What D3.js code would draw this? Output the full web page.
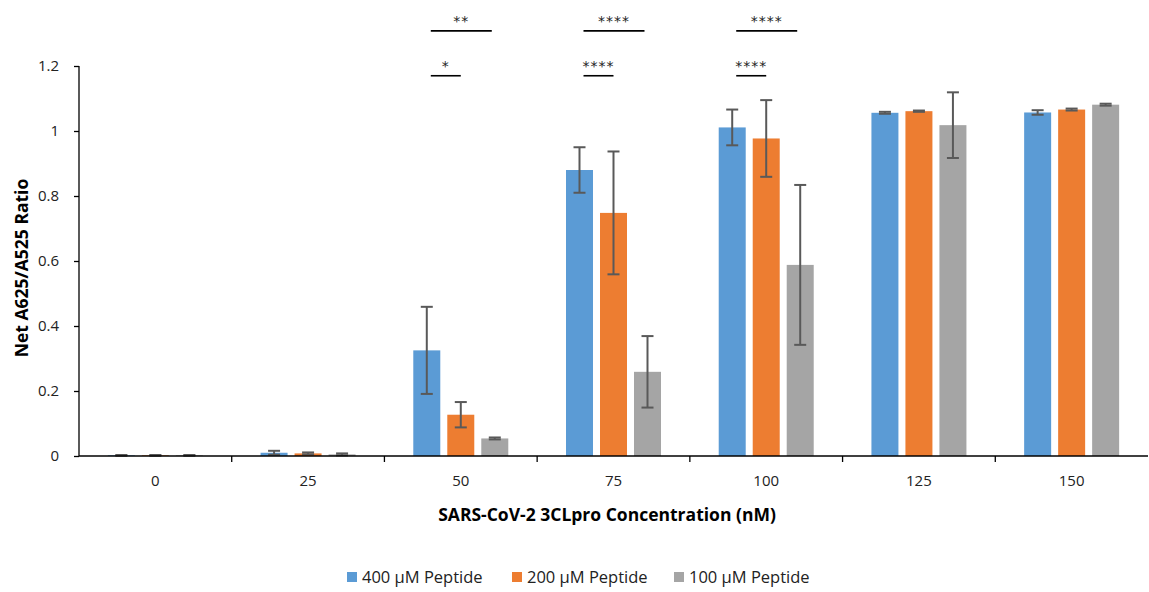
<!DOCTYPE html>
<html>
<head>
<meta charset="utf-8">
<script src="https://cdn.jsdelivr.net/npm/d3@7"></script>
<style>
  body { margin: 0; background: #fff; }
  svg { font-family: "Open Sans", sans-serif; }
</style>
</head>
<body>
<div id="chart"></div>
<script>
// chart data
const categories = ["0", "25", "50", "75", "100", "125", "150"];
const seriesNames = ["400 µM Peptide", "200 µM Peptide", "100 µM Peptide"];
const seriesColors = ["#5B9BD5", "#ED7D31", "#A5A5A5"];
const values400 = [0.002, 0.010, 0.325, 0.880, 1.011, 1.056, 1.057];
const values200 = [0.002, 0.008, 0.127, 0.748, 0.977, 1.061, 1.066];
const values100 = [0.002, 0.005, 0.054, 0.259, 0.588, 1.018, 1.081];
const errors400 = [0.001, 0.006, 0.134, 0.070, 0.055, 0.003, 0.007];
const errors200 = [0.001, 0.003, 0.039, 0.189, 0.118, 0.002, 0.003];
const errors100 = [0.001, 0.003, 0.003, 0.110, 0.246, 0.101, 0.003];
const yTickValues = [0, 0.2, 0.4, 0.6, 0.8, 1, 1.2];

// significance marks: category, compared series, label, height
const sigCategories = ["50", "50", "75", "75", "100", "100"];
const sigTargets = [1, 2, 1, 2, 1, 2];
const sigLabels = ["*", "**", "****", "****", "****", "****"];
const sigLevels = [1.17, 1.308, 1.17, 1.308, 1.17, 1.308];

const width = 1149, height = 592;
const margin = {top: 66, left: 79, right: 1, bottom: 136};
const plotW = width - margin.left - margin.right;
const plotH = height - margin.top - margin.bottom;

const svg = d3.select("#chart").append("svg")
    .attr("width", width)
    .attr("height", height);

const x = d3.scaleBand()
    .domain(categories)
    .range([margin.left, margin.left + plotW]);

const y = d3.scaleLinear()
    .domain([0, 1.2])
    .range([margin.top + plotH, margin.top]);

const barW = 27;
const step = 34;
const offsets = [-step, 0, step];

const allValues = [values400, values200, values100];
const allErrors = [errors400, errors200, errors100];

// bars
allValues.forEach((vals, s) => {
    const data = categories.map((c, i) => ({c: c, v: vals[i], e: allErrors[s][i]}));
    const g = svg.append("g");
    g.selectAll("rect")
        .data(data)
        .enter().append("rect")
        .attr("x", d => x(d.c) + x.bandwidth() / 2 + offsets[s] - barW / 2)
        .attr("width", barW)
        .attr("y", d => y(d.v))
        .attr("height", d => y(0) - y(d.v))
        .style("fill", seriesColors[s]);

    // error bars
    const eb = svg.append("g")
        .style("stroke", "#595959")
        .style("stroke-width", 2);
    data.forEach(d => {
        const cx = x(d.c) + x.bandwidth() / 2 + offsets[s];
        eb.append("line")
            .attr("x1", cx).attr("x2", cx)
            .attr("y1", y(d.v + d.e)).attr("y2", y(Math.max(0, d.v - d.e)));
        eb.append("line")
            .attr("x1", cx - 6).attr("x2", cx + 6)
            .attr("y1", y(d.v + d.e)).attr("y2", y(d.v + d.e));
        eb.append("line")
            .attr("x1", cx - 6).attr("x2", cx + 6)
            .attr("y1", y(Math.max(0, d.v - d.e))).attr("y2", y(Math.max(0, d.v - d.e)));
    });
});

// y axis
const yAxis = svg.append("g")
    .attr("transform", "translate(" + margin.left + ",0)")
    .call(d3.axisLeft(y).tickValues(yTickValues).tickSize(5).tickPadding(15)
        .tickFormat(d => d3.format("")(+d.toFixed(1))));
yAxis.style("font-size", "15px").style("font-family", "'Open Sans', sans-serif").style("color", "#000");
yAxis.select("path").attr("d", "M0," + y(1.2) + "V" + y(0)).style("stroke-width", 1.3);
yAxis.selectAll("line").style("stroke-width", 1.3);
yAxis.selectAll("text").style("fill", "#222");

// x axis
const xAxis = svg.append("g")
    .attr("transform", "translate(0," + y(0) + ")");
xAxis.append("line")
    .attr("x1", margin.left).attr("x2", margin.left + plotW)
    .style("stroke", "#000").style("stroke-width", 1.3);
xAxis.selectAll(".tick")
    .data(categories.slice(1))
    .enter().append("line")
    .attr("x1", d => x(d)).attr("x2", d => x(d))
    .attr("y1", 0).attr("y2", 6)
    .style("stroke", "#000").style("stroke-width", 1.3);
xAxis.selectAll(".lbl")
    .data(categories)
    .enter().append("text")
    .attr("x", d => x(d) + x.bandwidth() / 2)
    .attr("y", 30)
    .attr("text-anchor", "middle")
    .style("font-size", "15px")
    .style("fill", "#222")
    .text(d => d);

// significance brackets
const sig = svg.append("g");
sigCategories.forEach((c, i) => {
    const cx = x(c) + x.bandwidth() / 2;
    const x1 = cx + offsets[0] + 4;
    const x2 = cx + offsets[sigTargets[i]] - (sigTargets[i] === 2 ? 3 : 0);
    sig.append("line")
        .attr("x1", x1).attr("x2", x2)
        .attr("y1", y(sigLevels[i])).attr("y2", y(sigLevels[i]))
        .style("stroke", "#000").style("stroke-width", 1.6);
    sig.append("text")
        .attr("x", (x1 + x2) / 2)
        .attr("y", y(sigLevels[i]) - 5)
        .attr("text-anchor", "middle")
        .style("font-size", "14px")
        .style("font-family", "'DejaVu Sans', sans-serif")
        .style("letter-spacing", "1px")
        .style("fill", "#222")
        .text(sigLabels[i]);
});

// axis titles
svg.append("text")
    .attr("transform", "translate(28,268) rotate(-90)")
    .attr("text-anchor", "middle")
    .style("font-size", "17.5px")
    .style("font-weight", "bold")
    .text("Net A625/A525 Ratio");

svg.append("text")
    .attr("x", 607)
    .attr("y", 521)
    .attr("text-anchor", "middle")
    .style("font-size", "17.5px")
    .style("font-weight", "bold")
    .text("SARS-CoV-2 3CLpro Concentration (nM)");

// legend
const legendX = [347, 512, 674];
const legend = svg.append("g");
seriesNames.forEach((n, i) => {
    legend.append("rect")
        .attr("x", legendX[i]).attr("y", 572)
        .attr("width", 10).attr("height", 10)
        .style("fill", seriesColors[i]);
    legend.append("text")
        .attr("x", legendX[i] + 15).attr("y", 583)
        .style("font-size", "16.5px")
        .style("fill", "#222")
        .text(n);
});
</script>
</body>
</html>
